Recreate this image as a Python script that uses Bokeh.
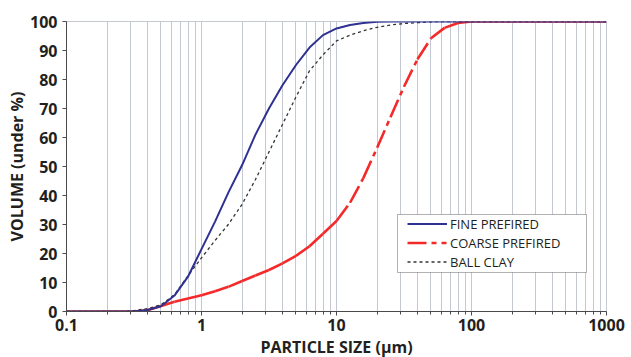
from bokeh.plotting import figure
from bokeh.models import FixedTicker, Legend, LegendItem, Title, Range1d, BoxAnnotation
from bokeh.embed import file_html
from bokeh.resources import INLINE

# particle size grid (µm)
size_um = [0.1, 0.126, 0.158, 0.2, 0.251, 0.316, 0.398, 0.501, 0.631, 0.794,
           1.0, 1.26, 1.58, 2.0, 2.51, 3.16, 3.98, 5.01, 6.31, 7.94,
           10.0, 12.6, 15.8, 20.0, 25.1, 31.6, 39.8, 50.1, 63.1, 79.4,
           100, 126, 158, 200, 251, 316, 398, 501, 631, 794, 1000]

fine_prefired = [0, 0, 0, 0, 0, 0, 0.5, 1.8, 5.5, 12,
                 21.5, 31, 41, 50.5, 61, 70, 78, 85, 91, 95.3,
                 97.6, 98.8, 99.5, 99.9, 100, 100, 100, 100, 100, 100,
                 100, 100, 100, 100, 100, 100, 100, 100, 100, 100, 100]

coarse_prefired = [0, 0, 0, 0, 0, 0, 0.4, 1.9, 3.4, 4.5,
                   5.6, 7.0, 8.5, 10.5, 12.4, 14.3, 16.6, 19.2, 22.5, 26.8,
                   31.2, 37.5, 46, 56.5, 67, 77.5, 87, 94.2, 97.8, 99.5,
                   100, 100, 100, 100, 100, 100, 100, 100, 100, 100, 100]

ball_clay = [0, 0, 0, 0, 0, 0.3, 1.0, 2.3, 5.8, 12.3,
             18.5, 24.5, 30, 37, 45.5, 55, 64.5, 74, 83, 88.5,
             93.3, 95.3, 96.8, 98, 98.8, 99.3, 99.6, 99.9, 100, 100,
             100, 100, 100, 100, 100, 100, 100, 100, 100, 100, 100]

series_names = ["FINE PREFIRED", "COARSE PREFIRED", "BALL CLAY"]

x_major_ticks = [0.1, 1, 10, 100, 1000]
x_tick_labels = ["0.1", "1", "10", "100", "1000"]
x_minor_ticks = [m * d for d in [0.1, 1, 10, 100] for m in range(2, 10)]
y_ticks = [0, 10, 20, 30, 40, 50, 60, 70, 80, 90, 100]

x_title = "PARTICLE SIZE (µm)"
y_title = "VOLUME (under %)"

FONT = "Open Sans"
TXT = "#231F20"
BLUE = "#2E3192"
RED = "#F42A2A"
GRID = "#C3C8D2"

p = figure(x_axis_type="log", x_range=Range1d(0.1, 1000), y_range=Range1d(0, 100),
           width=631, height=357,
           min_border_left=66, min_border_right=25, min_border_top=21, min_border_bottom=44,
           output_backend="svg", toolbar_location=None)
p.background_fill_color = "white"
p.border_fill_color = "white"
p.outline_line_color = GRID
p.outline_line_width = 1

# axes
p.xaxis.ticker = FixedTicker(ticks=x_major_ticks, minor_ticks=x_minor_ticks)
p.xaxis.major_label_overrides = {t: l for t, l in zip(x_major_ticks, x_tick_labels)}
p.yaxis.ticker = FixedTicker(ticks=y_ticks)
for ax in (p.xaxis[0], p.yaxis[0]):
    ax.axis_line_color = "#4A4A4A"
    ax.major_tick_line_color = "#4A4A4A"
    ax.minor_tick_line_color = "#4A4A4A"
    ax.major_tick_in = 0
    ax.major_tick_out = 4
    ax.minor_tick_in = 0
    ax.minor_tick_out = 3
    ax.major_label_text_font = FONT
    ax.major_label_text_font_style = "bold"
    ax.major_label_text_font_size = "16px"
    ax.major_label_text_color = TXT
p.yaxis.minor_tick_line_color = None
p.xaxis.major_label_standoff = 3
p.yaxis.major_label_standoff = 5

# grid: vertical lines at every major and minor decade tick
p.xgrid.ticker = p.xaxis.ticker
p.xgrid.grid_line_color = GRID
p.xgrid.minor_grid_line_color = GRID
p.ygrid.grid_line_color = None

# axis titles (offset like the reference, which centres them on the chart area)
p.add_layout(Title(text=x_title, align="center", offset=14, standoff=0,
                   text_font=FONT, text_font_style="bold", text_font_size="16px",
                   text_color=TXT), "below")
p.add_layout(Title(text=y_title, align="center", offset=15, standoff=0,
                   text_font=FONT, text_font_style="bold", text_font_size="16px",
                   text_color=TXT), "left")

# series
seg_xs = [[size_um[i], size_um[i + 1]] for i in range(len(size_um) - 1)]
seg_ys = [[coarse_prefired[i], coarse_prefired[i + 1]] for i in range(len(size_um) - 1)]
r_coarse = p.multi_line(seg_xs, seg_ys, line_color=RED, line_width=2.6,
                        line_dash="19 5 5 5 5 5")
r_clay = p.line(size_um, ball_clay, line_color="#333333", line_width=1.3, line_dash="3 3")
r_fine = p.line(size_um, fine_prefired, line_color=BLUE, line_width=2)

# legend frame (drawn as a box so it can be wider than the labels, as in the reference)
p.add_layout(BoxAnnotation(left=331, right=520, bottom=39, top=97,
                           left_units="screen", right_units="screen",
                           bottom_units="screen", top_units="screen",
                           fill_color="white", fill_alpha=1,
                           line_color="black", line_width=1, level="annotation"))

legend = Legend(items=[LegendItem(label=series_names[0], renderers=[r_fine]),
                       LegendItem(label=series_names[1], renderers=[r_coarse]),
                       LegendItem(label=series_names[2], renderers=[r_clay])],
                location=(341, 40), margin=0, padding=0, spacing=0,
                glyph_width=40, glyph_height=19, label_height=19,
                label_standoff=3,
                label_text_font=FONT, label_text_font_size="13px", label_text_color=TXT,
                border_line_color=None,
                background_fill_alpha=0)
p.add_layout(legend, "center")

open("out.html", "w").write(file_html(p, INLINE))
